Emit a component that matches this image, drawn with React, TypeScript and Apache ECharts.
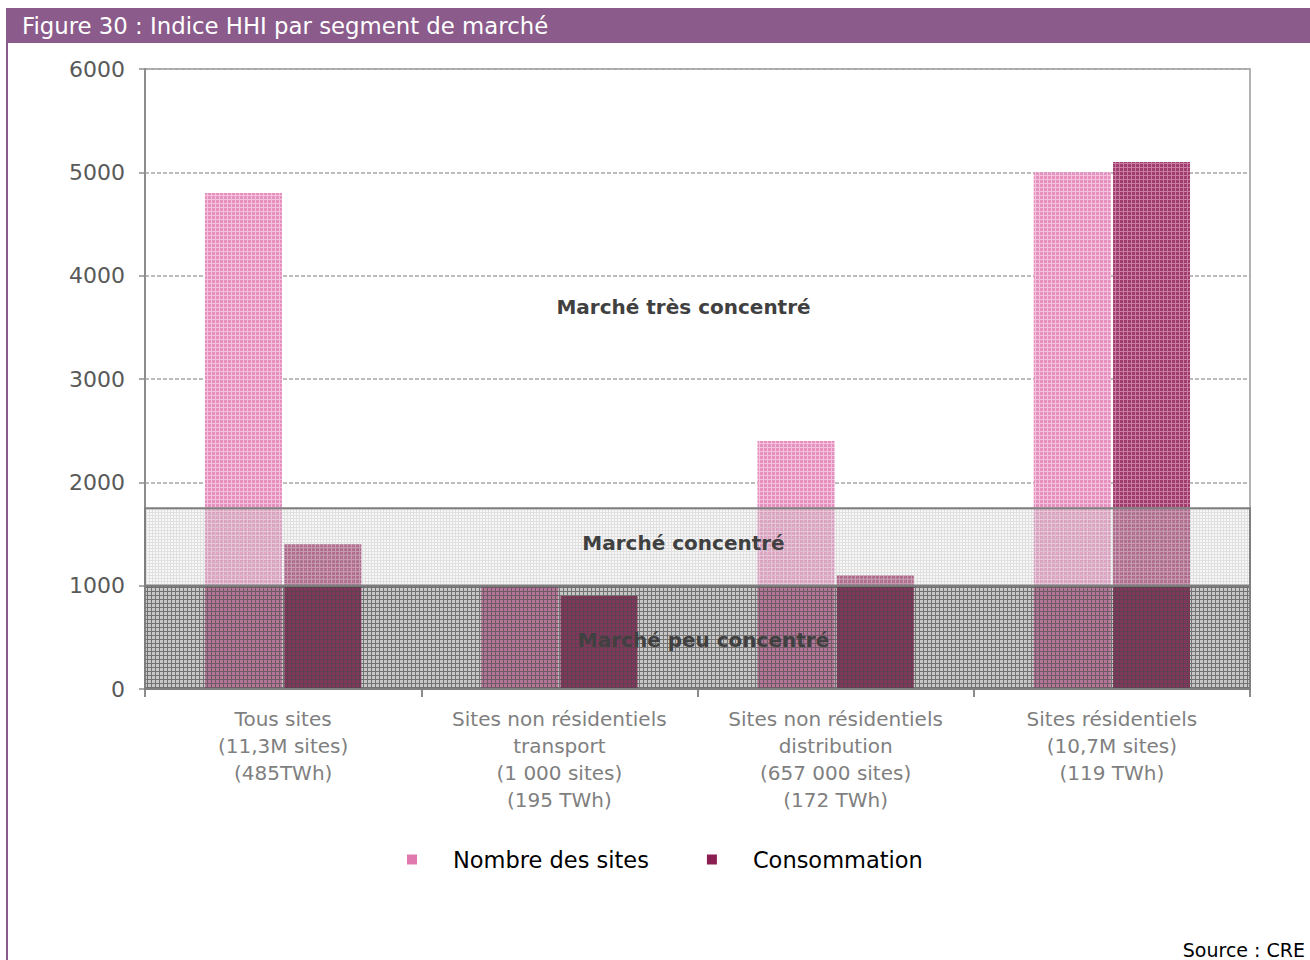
import React, { useEffect, useRef } from "react";
import * as echarts from "echarts";

const categories = [
  "Tous sites\n(11,3M sites)\n(485TWh)",
  "Sites non résidentiels\ntransport\n(1 000 sites)\n(195 TWh)",
  "Sites non résidentiels\ndistribution\n(657 000 sites)\n(172 TWh)",
  "Sites résidentiels\n(10,7M sites)\n(119 TWh)",
];
const nombreSites = [4800, 1000, 2400, 5000];
const consommation = [1400, 900, 1100, 5100];
const yTicks = { min: 0, max: 6000, interval: 1000 };
const bands = [
  { from: 1750, to: 6000, label: "Marché très concentré" },
  { from: 1000, to: 1750, label: "Marché concentré" },
  { from: 0, to: 1000, label: "Marché peu concentré" },
];

function makePattern(bg: string, line: string, step: number, lw: number) {
  const c = document.createElement("canvas");
  c.width = step;
  c.height = step;
  const ctx = c.getContext("2d")!;
  ctx.clearRect(0, 0, step, step);
  ctx.fillStyle = bg;
  ctx.fillRect(0, 0, step, step);
  ctx.fillStyle = line;
  ctx.fillRect(0, step - lw, step, lw);
  ctx.fillRect(step - lw, 0, lw, step - lw);
  return { image: c, repeat: "repeat" };
}

export default function App() {
  const ref = useRef<HTMLDivElement>(null);
  useEffect(() => {
    if (!ref.current) return;
    const chart = echarts.init(ref.current, null, { renderer: "svg" });
    const pinkPat = makePattern("#E690BF", "rgba(255,235,245,0.55)", 4, 1);
    const darkPat = makePattern("#A03D6E", "rgba(240,190,215,0.5)", 4, 1);
    const heavyBand = makePattern("rgba(40,40,40,0.26)", "rgba(30,30,30,0.5)", 4, 1);
    const lightBand = makePattern("rgba(225,225,225,0.25)", "rgba(170,170,170,0.3)", 3, 1);
    const bandFills = ["rgba(0,0,0,0)", lightBand, heavyBand];
    const bandOffsets = [[-14, 18], [-14, -4], [6, 3]];
    const option: any = {
      animation: false,
      grid: {
        left: 145,
        right: 60,
        top: 69,
        bottom: 271,
        show: true,
        borderColor: "#9a9a9a",
        borderWidth: 1.5,
        backgroundColor: "transparent",
      },
      graphic: [
        { type: "rect", shape: { x: 8, y: 8, width: 1302, height: 35 }, style: { fill: "#8A5B8B" } },
        { type: "rect", shape: { x: 6, y: 8, width: 2, height: 952 }, style: { fill: "#8A5B8B" } },
        {
          type: "text",
          x: 22,
          y: 26,
          style: {
            text: "Figure 30 : Indice HHI par segment de marché",
            fill: "#ffffff",
            font: "22.8px 'DejaVu Sans', sans-serif",
            textVerticalAlign: "middle",
          },
        },
        {
          type: "text",
          right: 5,
          y: 950,
          style: {
            text: "Source : CRE",
            fill: "#000000",
            font: "19px 'DejaVu Sans', sans-serif",
            textVerticalAlign: "middle",
          },
        },
      ],
      legend: {
        data: [
          { name: "Nombre des sites", itemStyle: { color: "#E07AAE" } },
          { name: "Consommation", itemStyle: { color: "#8B1F52" } },
        ],
        left: 402,
        top: 843,
        icon: "rect",
        itemWidth: 10,
        itemHeight: 10,
        itemGap: 58,
        textStyle: {
          fontFamily: "'DejaVu Sans', sans-serif",
          fontSize: 22.5,
          color: "#000",
          padding: [0, 0, 0, 31],
        },
      },
      xAxis: {
        type: "category",
        data: categories,
        axisLine: { lineStyle: { color: "#8c8c8c", width: 2 } },
        axisTick: { show: true, length: 8, lineStyle: { color: "#8c8c8c", width: 2 } },
        axisLabel: {
          color: "#7f7f7f",
          fontFamily: "'DejaVu Sans', sans-serif",
          fontSize: 20,
          lineHeight: 27,
          margin: 16,
          interval: 0,
        },
      },
      yAxis: {
        type: "value",
        min: yTicks.min,
        max: yTicks.max,
        interval: yTicks.interval,
        axisLine: { show: true, lineStyle: { color: "#8c8c8c", width: 2 } },
        axisTick: { show: true, length: 6, lineStyle: { color: "#8c8c8c", width: 1.5 } },
        axisLabel: {
          color: "#595959",
          fontFamily: "'DejaVu Sans', sans-serif",
          fontSize: 22,
          margin: 20,
          formatter: (v: number) => String(v),
        },
        splitLine: { show: true, lineStyle: { color: "#a6a6a6", type: [4, 2], width: 1.5 } },
      },
      series: [
        {
          name: "Nombre des sites",
          type: "bar",
          data: nombreSites,
          barWidth: 77,
          barGap: "3%",
          itemStyle: { color: pinkPat },
          z: 2,
        },
        {
          name: "Consommation",
          type: "bar",
          data: consommation,
          barWidth: 77,
          barGap: "3%",
          itemStyle: { color: darkPat },
          z: 2,
        },
        {
          name: "zones",
          type: "line",
          data: [],
          silent: true,
          z: 5,
          markArea: {
            z: 5,
            silent: true,
            data: bands.map((b, i) => [
              {
                yAxis: b.from,
                itemStyle: {
                  color: bandFills[i],
                  borderColor: i === 0 ? "transparent" : "#7f7f7f",
                  borderWidth: i === 0 ? 0 : 2,
                },
                label: {
                  show: true,
                  position: "inside",
                  formatter: b.label,
                  offset: bandOffsets[i],
                  color: "#404040",
                  fontWeight: "bold",
                  fontSize: 20,
                  fontFamily: "'DejaVu Sans', sans-serif",
                },
              },
              { yAxis: b.to },
            ]),
          },
        },
      ],
    };
    chart.setOption(option);
    return () => chart.dispose();
  }, []);
  return (
    <div
      ref={ref}
      style={{ position: "absolute", left: 0, top: 0, width: 1310, height: 960, background: "#fff" }}
    />
  );
}
